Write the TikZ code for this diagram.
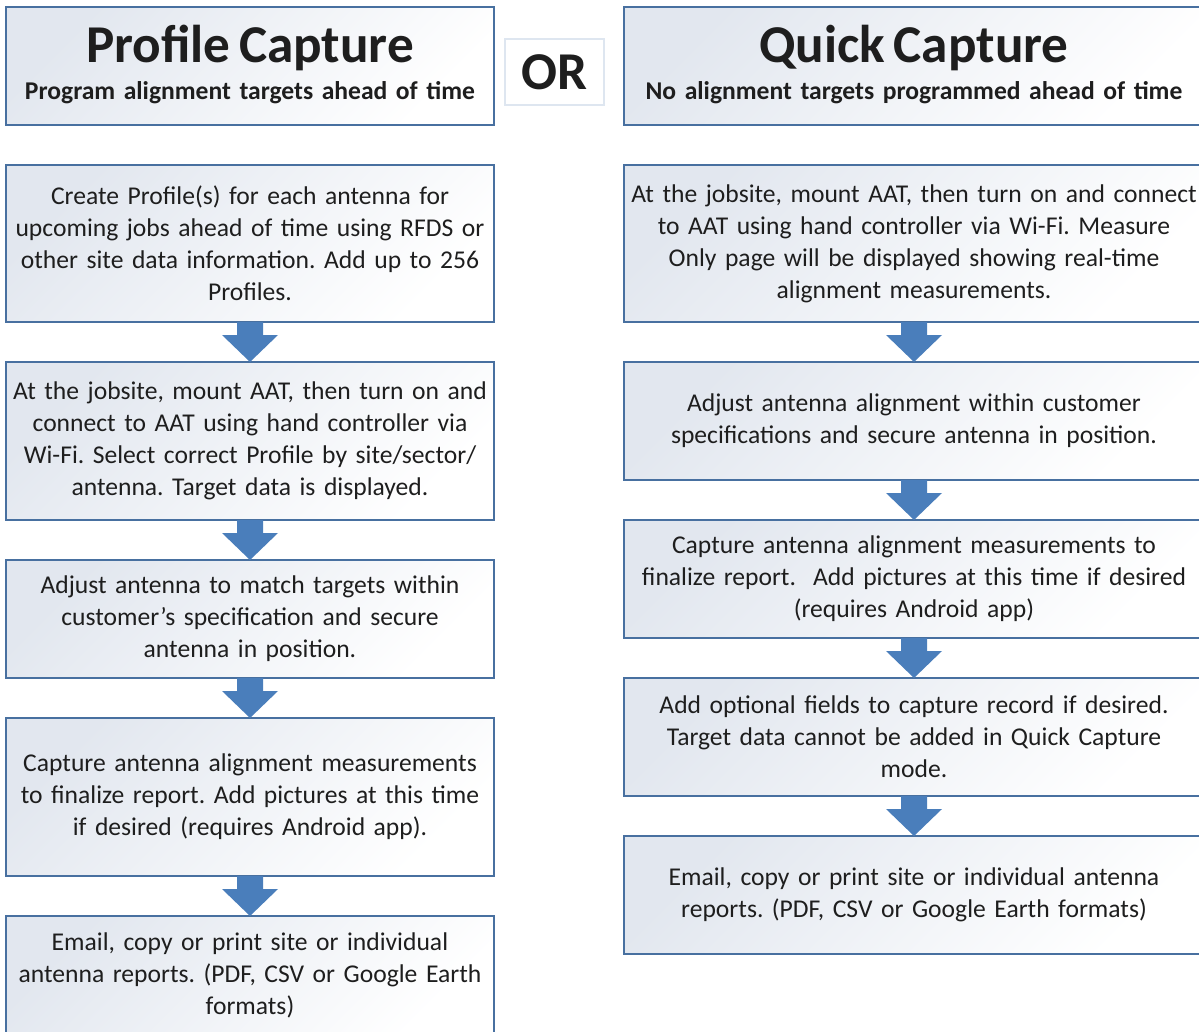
\documentclass[tikz,border=0pt]{standalone}
\usepackage{fontspec}
\setmainfont{Carlito}
\usetikzlibrary{positioning, calc, shadings}
\definecolor{boxblue}{RGB}{72,112,160}
\definecolor{boxgray}{RGB}{226,231,239}
\definecolor{arrowblue}{RGB}{74,126,187}
\definecolor{orline}{RGB}{222,230,240}
\definecolor{txt}{RGB}{30,30,30}
\frenchspacing

\begin{document}
\begin{tikzpicture}[x=0.5pt, y=-0.5pt, node distance=20pt]
  \tikzset{
    stepbox/.style={draw=boxblue, line width=0.9pt, outer sep=0pt, top color=boxgray, bottom color=white, shading angle=45,
      align=center, inner sep=0pt, text=txt, font=\fontsize{12.8}{16}\selectfont},
    leftbox/.style={stepbox, text width=244pt, minimum height=#1},
    rightbox/.style={stepbox, text width=290pt, minimum height=#1},
    titletext/.style={font=\fontsize{26.6}{26.6}\selectfont\bfseries},
    downarrow/.style={fill=arrowblue, to path={let \p1=(\tikztostart), \p2=(\tikztotarget) in
      (\x1-6.5pt,\y1) -- (\x1+6.5pt,\y1) -- (\x1+6.5pt,\y2+13.5pt) -- (\x1+14pt,\y2+13.5pt)
      -- (\x1,\y2) -- (\x1-14pt,\y2+13.5pt) -- (\x1-6.5pt,\y2+13.5pt) -- cycle}}
  }
  \clip (0,0) rectangle (1199,1032);

  % left column
  \node[leftbox=59pt, anchor=north west] (l0) at (6,7)
    {{\fontsize{26.6}{26.6}\selectfont\bfseries Profile Capture}\\[2.5pt]
     {\bfseries Program alignment targets ahead of time}\rule[-3.5pt]{0pt}{0pt}};
  \node[leftbox=78.5pt, below=of l0] (l1) {Create Profile(s) for each antenna for\\ upcoming jobs ahead of time using RFDS or\\ other site data information. Add up to 256\\ Profiles.};
  \node[leftbox=79pt, below=of l1] (l2) {At the jobsite, mount AAT, then turn on and\\ connect to AAT using hand controller via\\ Wi-Fi. Select correct Profile by site/sector/\\ antenna. Target data is displayed.};
  \node[leftbox=59pt, below=of l2] (l3) {Adjust antenna to match targets within\\ customer’s specification and secure\\ antenna in position.};
  \node[leftbox=79pt, below=of l3] (l4) {Capture antenna alignment measurements\\ to finalize report. Add pictures at this time\\ if desired (requires Android app).};
  \node[leftbox=59pt, below=of l4] (l5) {Email, copy or print site or individual\\ antenna reports. (PDF, CSV or Google Earth\\ formats)};

  \node[draw=orline, line width=0.8pt, fill=white, minimum width=49.5pt, minimum height=33pt, inner sep=0pt,
    titletext, text=txt] (or) at (554.5,72) {OR};

  % right column
  \node[rightbox=59pt, anchor=north west] (r0) at (624,7)
    {{\fontsize{26.6}{26.6}\selectfont\bfseries Quick Capture}\\[2.5pt]
     {\bfseries No alignment targets programmed ahead of time}\rule[-3.5pt]{0pt}{0pt}};
  \node[rightbox=78.5pt, below=of r0] (r1) {At the jobsite, mount AAT, then turn on and connect\\ to AAT using hand controller via Wi-Fi. Measure\\ Only page will be displayed showing real-time\\ alignment measurements.};
  \node[rightbox=59pt, below=of r1] (r2) {Adjust antenna alignment within customer\\ specifications and secure antenna in position.};
  \node[rightbox=59pt, below=of r2] (r3) {Capture antenna alignment measurements to\\ finalize report.\ \ Add pictures at this time if desired\\ (requires Android app)};
  \node[rightbox=59pt, below=of r3] (r4) {Add optional fields to capture record if desired.\\ Target data cannot be added in Quick Capture\\ mode.};
  \node[rightbox=59pt, below=of r4] (r5) {Email, copy or print site or individual antenna\\ reports. (PDF, CSV or Google Earth formats)};

  \foreach \a/\b in {l1/l2, l2/l3, l3/l4, l4/l5, r1/r2, r2/r3, r3/r4, r4/r5}
    \path[downarrow] (\a.south) to (\b.north);
\end{tikzpicture}
\end{document}
